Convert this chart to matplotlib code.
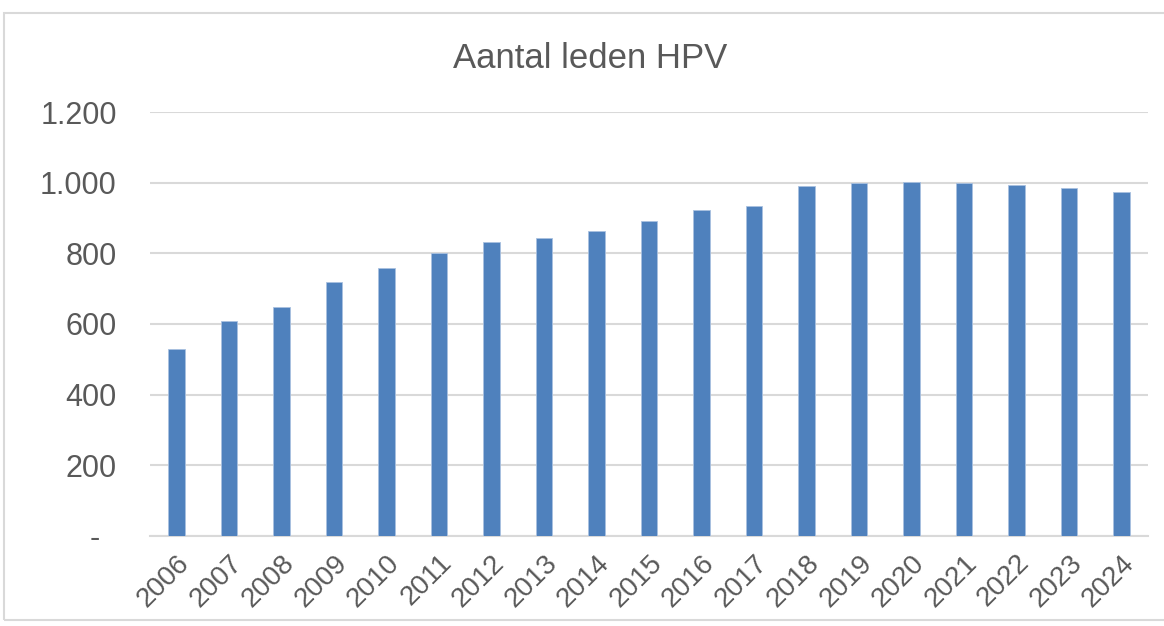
import matplotlib.pyplot as plt
from matplotlib.patches import Rectangle

# Data
years = ["2006", "2007", "2008", "2009", "2010", "2011", "2012", "2013", "2014", "2015",
         "2016", "2017", "2018", "2019", "2020", "2021", "2022", "2023", "2024"]
members = [528, 607, 648, 719, 758, 800, 832, 843, 863, 892,
           922, 935, 990, 999, 1002, 999, 994, 986, 974]
y_ticks = [0, 200, 400, 600, 800, 1000, 1200]


def fmt(v):
    # Excel accounting style: zero shown as a dash, padded
    if v == 0:
        return "-  "
    return f"{v:,}".replace(",", ".")


plt.rcParams['font.family'] = ['Liberation Sans', 'DejaVu Sans']

fig = plt.figure(figsize=(11.64, 6.26), dpi=100)
ax = fig.add_axes([0.129, 0.144, 0.857, 0.677])

# Chart border like an Excel chart area
fig.patches.append(Rectangle((0.0035, 0.01), 1.2, 0.969, transform=fig.transFigure,
                             fill=False, edgecolor="#D9D9D9", linewidth=1.5))

x = range(len(years))
ax.bar(x, members, width=0.31, color="#4F81BD", edgecolor="#A9C1E0", linewidth=0.6, zorder=3)

ax.set_ylim(0, 1200)
ax.set_xlim(-0.5, len(years) - 0.5)
ax.set_yticks(y_ticks)
ax.set_yticklabels([fmt(v) for v in y_ticks])
ax.set_xticks(list(x))
ax.set_xticklabels(years, rotation=45, ha="right", rotation_mode="anchor")
ax.grid(axis="y", color="#D9D9D9", linewidth=1.5, zorder=0)

for side in ["top", "right", "left"]:
    ax.spines[side].set_visible(False)
ax.spines["bottom"].set_color("#D9D9D9")
ax.spines["bottom"].set_linewidth(1.5)

ax.tick_params(axis="both", length=0, colors="#595959")
ax.tick_params(axis="y", pad=24, labelsize=22)
ax.tick_params(axis="x", pad=10, labelsize=20)

fig.text(0.507, 0.907, "Aantal leden HPV", ha="center", va="center", fontsize=25, color="#595959")

fig.savefig("out.png", dpi=100)
